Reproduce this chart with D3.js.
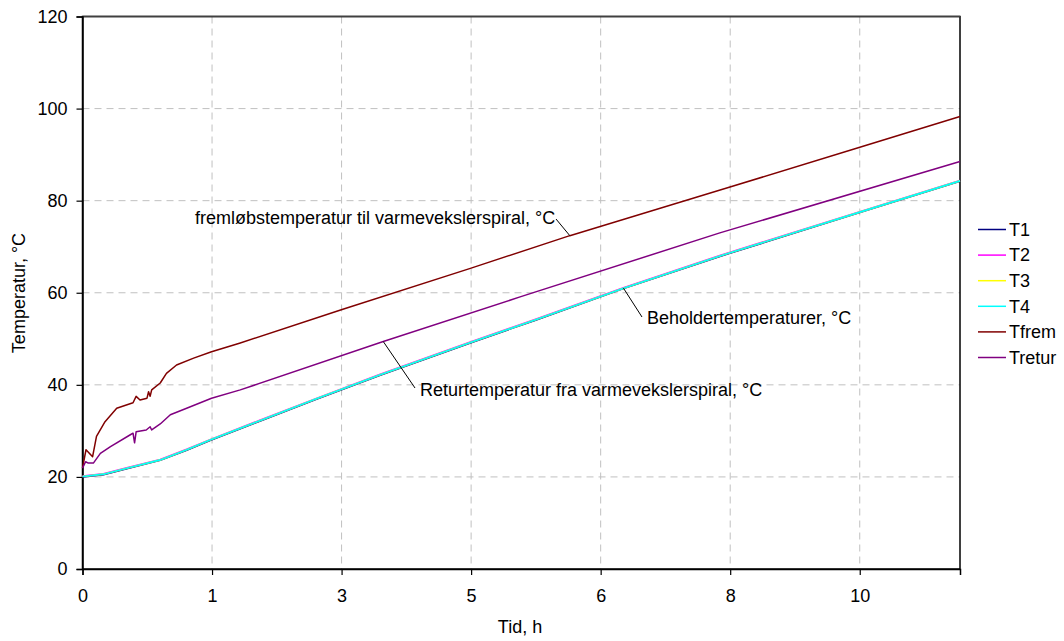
<!DOCTYPE html>
<html>
<head>
<meta charset="utf-8">
<script src="https://cdn.jsdelivr.net/npm/d3@7"></script>
<style>
  body { margin: 0; background: #fff; }
  svg { display: block; font-family: "Liberation Sans", Arial, sans-serif; }
</style>
</head>
<body>
<svg id="chart" width="1064" height="641"></svg>
<script>
// ---- Data ----
const seriesNames = ["T1", "T2", "T3", "T4", "Tfrem", "Tretur"];
const seriesColors = ["#000080", "#ff00ff", "#ffff00", "#00ffff", "#800000", "#800080"];

const timeT = [0, 0.27, 0.57, 1.0, 1.34, 1.64, 2.28, 3.0, 3.83, 4.99, 5.82, 6.96, 8.2, 9.98, 11.29];
const valuesT1 = [20.0, 20.5, 21.8, 23.6, 25.8, 27.9, 32.1, 36.8, 42.1, 49.1, 54.0, 60.9, 67.9, 77.3, 84.2];
const valuesT2 = [20.2, 20.7, 22.0, 23.8, 26.0, 28.1, 32.3, 37.0, 42.3, 49.3, 54.2, 61.1, 68.1, 77.5, 84.4];
const valuesT3 = [20.1, 20.6, 21.9, 23.7, 25.9, 28.0, 32.2, 36.9, 42.2, 49.2, 54.1, 61.0, 68.0, 77.4, 84.3];
const valuesT4 = [20.1, 20.6, 21.9, 23.7, 25.9, 28.0, 32.2, 36.9, 42.2, 49.2, 54.1, 61.0, 68.0, 77.4, 84.3];

const timeFrem = [0, 0.045, 0.13, 0.18, 0.29, 0.44, 0.65, 0.69, 0.74, 0.83, 0.85, 0.87, 0.89, 1.0, 1.08, 1.21, 1.43, 1.66, 2.03, 3.33, 4.99, 6.27, 8.32, 9.98, 11.29];
const valuesFrem = [21.9, 25.9, 24.4, 28.8, 32.0, 34.9, 36.1, 37.5, 36.7, 37.1, 38.5, 37.5, 38.9, 40.4, 42.5, 44.3, 45.8, 47.2, 49.1, 56.3, 65.3, 72.4, 82.9, 91.5, 98.3];

const timeRetur = [0, 0.04, 0.075, 0.14, 0.23, 0.36, 0.61, 0.65, 0.67, 0.69, 0.82, 0.87, 0.89, 1.0, 1.13, 1.34, 1.66, 2.03, 3.87, 5.63, 8.2, 11.29];
const valuesRetur = [21.9, 23.3, 23.0, 23.0, 25.1, 26.6, 29.1, 29.5, 27.4, 29.8, 30.2, 30.9, 30.2, 31.5, 33.5, 34.9, 37.1, 38.9, 49.4, 59.1, 73.0, 88.5];

const xTickValues = [0, 1.6667, 3.3333, 5.0, 6.6667, 8.3333, 10.0];
const xTickLabels = ["0", "1", "3", "5", "6", "8", "10"];
const yTickValues = [0, 20, 40, 60, 80, 100, 120];

const annotations = [
  { text: "fremløbstemperatur til varmevekslerspiral, °C", t: 6.27, v: 72.4, tx: 195, ty: 218, lx: 556, ly: 219 },
  { text: "Beholdertemperaturer, °C", t: 6.96, v: 61.0, tx: 647, ty: 318, lx: 642, ly: 317 },
  { text: "Returtemperatur fra varmevekslerspiral, °C", t: 3.87, v: 49.4, tx: 420, ty: 390, lx: 415, ly: 388 }
];

// ---- Layout ----
const svg = d3.select("#chart");
const pLeft = 82.5, pRight = 960, pTop = 16.5, pBottom = 569;
const x = d3.scaleLinear().domain([0, 11.29]).range([pLeft, pRight]);
const y = d3.scaleLinear().domain([0, 120]).range([pBottom, pTop]);
const fontSize = 18;

// gridlines
svg.append("g").selectAll("line")
  .data(yTickValues.filter(v => v > 0 && v < 120))
  .join("line")
  .attr("x1", pLeft).attr("x2", pRight)
  .attr("y1", d => y(d)).attr("y2", d => y(d))
  .attr("stroke", "#c0c0c0").attr("stroke-width", 1).attr("stroke-dasharray", "7,5");
svg.append("g").selectAll("line")
  .data(xTickValues.filter(v => v > 0))
  .join("line")
  .attr("x1", d => x(d)).attr("x2", d => x(d))
  .attr("y1", pTop).attr("y2", pBottom)
  .attr("stroke", "#c0c0c0").attr("stroke-width", 1).attr("stroke-dasharray", "7,5");

// frame
svg.append("rect")
  .attr("x", pLeft).attr("y", pTop).attr("width", pRight - pLeft).attr("height", pBottom - pTop)
  .attr("fill", "none").attr("stroke", "#000").attr("stroke-width", 1.5);
svg.append("line").attr("x1", pLeft).attr("x2", pRight).attr("y1", pTop).attr("y2", pTop)
  .attr("stroke", "#404040").attr("stroke-width", 1.5);

// axes
const yAxis = d3.axisLeft(y).tickValues(yTickValues).tickSize(6).tickPadding(9).tickFormat(d3.format("d"));
const gy = svg.append("g").attr("transform", `translate(${pLeft},0)`).call(yAxis);
const xAxis = d3.axisBottom(x).tickValues(xTickValues).tickSize(6).tickPadding(14)
  .tickFormat((d, i) => xTickLabels[i]);
const gx = svg.append("g").attr("transform", `translate(0,${pBottom})`).call(xAxis);
[gx, gy].forEach(g => {
  g.select(".domain").attr("stroke", "#000").attr("stroke-width", 1.5);
  g.selectAll(".tick line").attr("stroke", "#000").attr("stroke-width", 1.2);
  g.selectAll(".tick text").attr("font-size", fontSize).attr("font-family", "Liberation Sans, Arial, sans-serif").attr("fill", "#000");
});

// axis titles
svg.append("text").attr("x", 520).attr("y", 633).attr("text-anchor", "middle")
  .attr("font-size", fontSize).text("Tid, h");
svg.append("text").attr("transform", "translate(25,293) rotate(-90)").attr("text-anchor", "middle")
  .attr("font-size", fontSize).text("Temperatur, °C");

// series
const seriesData = [
  { t: timeT, v: valuesT1 },
  { t: timeT, v: valuesT2 },
  { t: timeT, v: valuesT3 },
  { t: timeT, v: valuesT4 },
  { t: timeFrem, v: valuesFrem },
  { t: timeRetur, v: valuesRetur }
];
const line = d3.line().x(d => x(d[0])).y(d => y(d[1]));
seriesData.forEach((s, i) => {
  svg.append("path")
    .datum(s.t.map((t, j) => [t, s.v[j]]))
    .attr("d", line)
    .attr("fill", "none")
    .attr("stroke", seriesColors[i])
    .attr("stroke-width", i < 4 ? 1.6 : 1.5)
    .attr("stroke-linejoin", "round");
});

// annotations
annotations.forEach(a => {
  svg.append("line")
    .attr("x1", a.lx).attr("y1", a.ly).attr("x2", x(a.t)).attr("y2", y(a.v))
    .attr("stroke", "#000").attr("stroke-width", 1);
  svg.append("text").attr("x", a.tx).attr("y", a.ty).attr("dy", "0.35em")
    .attr("font-size", fontSize).text(a.text);
});

// legend
const lg = svg.append("g");
seriesNames.forEach((n, i) => {
  const yy = 229.5 + i * 25.6;
  lg.append("line").attr("x1", 978).attr("x2", 1006).attr("y1", yy).attr("y2", yy)
    .attr("stroke", seriesColors[i]).attr("stroke-width", 1.5);
  lg.append("text").attr("x", 1009).attr("y", yy).attr("dy", "0.35em")
    .attr("font-size", fontSize).text(n);
});
</script>
</body>
</html>
